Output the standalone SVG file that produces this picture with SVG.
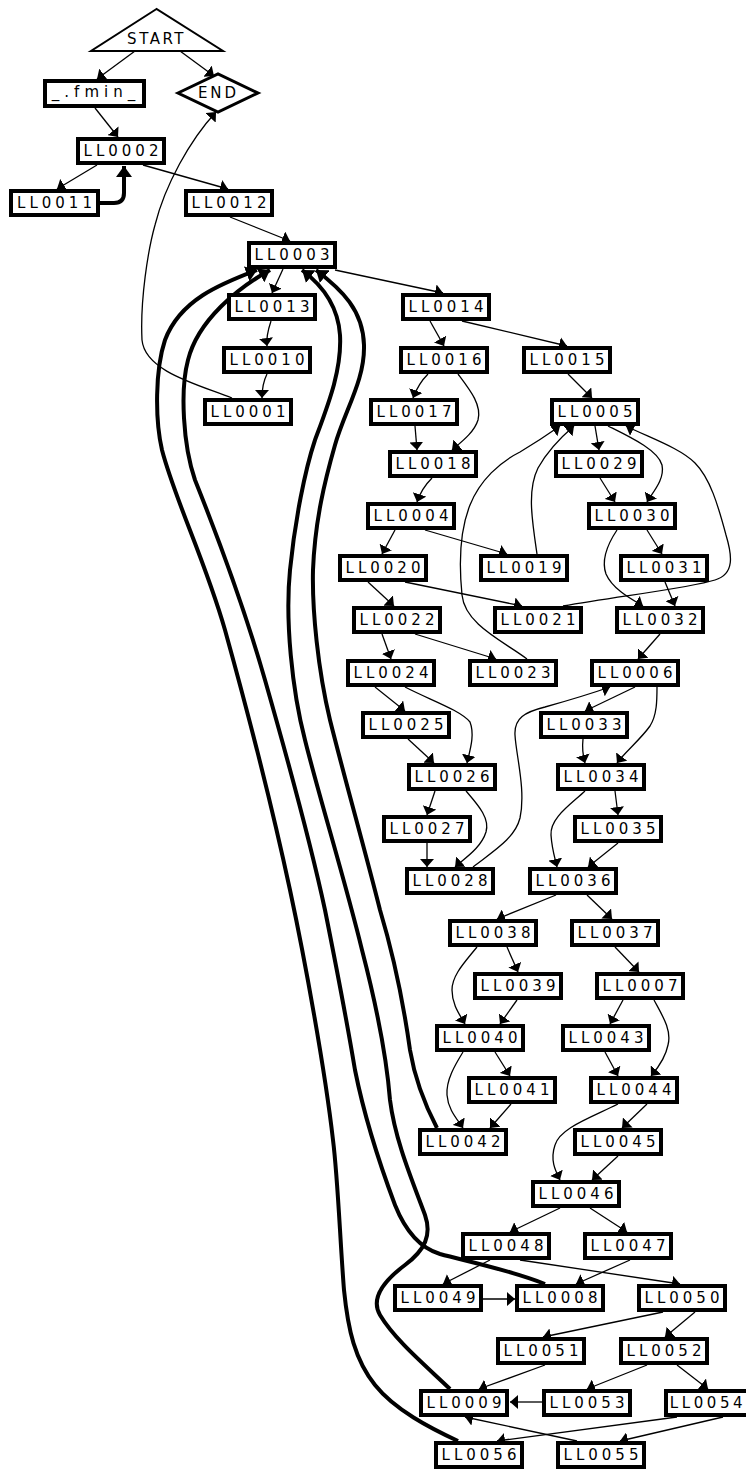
<svg xmlns="http://www.w3.org/2000/svg" width="746" height="1470" viewBox="0 0 746 1470">
<style>
.box{fill:#fff;stroke:#000;stroke-width:4}
.lbl{font-family:"DejaVu Sans","Liberation Sans",sans-serif;font-size:15px;letter-spacing:4px;text-anchor:middle;fill:#000}
.e{fill:none;stroke:#000;stroke-width:1.3;marker-end:url(#ah)}
.t{fill:none;stroke:#000;stroke-width:4;marker-end:url(#aht)}
</style>
<defs>
<marker id="ah" markerUnits="userSpaceOnUse" viewBox="0 0 8 14" refX="8" refY="7" markerWidth="8" markerHeight="14" orient="auto"><path d="M0,0 L8,7 L0,14 z" fill="#000"/></marker>
<marker id="aht" markerUnits="userSpaceOnUse" viewBox="0 0 11 16" refX="11" refY="8" markerWidth="11" markerHeight="16" orient="auto"><path d="M0,0 L11,8 L0,16 z" fill="#000"/></marker>
</defs>
<rect width="746" height="1470" fill="#fff"/>
<g id="connectors">
<path class="e" d="M135,51 L97,79"/>
<path class="e" d="M180,51 L214,76"/>
<path class="e" d="M95,108 L118,137"/>
<path class="e" d="M97,165 L57,189"/>
<path class="e" d="M143,165 L228,189"/>
<path class="e" d="M230,217 L290,241"/>
<path class="e" d="M232,398 C200,385 145,372 142,340 C140,300 148,250 155,225 C165,185 190,140 216,112"/>
<path class="e" d="M283,269 L272,293"/>
<path class="e" d="M335,270 L443,293"/>
<path class="e" d="M271,321 C268,330 266,338 267,346"/>
<path class="e" d="M267,374 C263,382 262,390 262,398"/>
<path class="e" d="M430,321 L444,346"/>
<path class="e" d="M462,321 L567,346"/>
<path class="e" d="M428,374 C420,382 416,390 413,398"/>
<path class="e" d="M458,374 C470,390 482,405 478,420 C474,433 460,443 452,450"/>
<path class="e" d="M568,374 L592,398"/>
<path class="e" d="M415,426 L417,450"/>
<path class="e" d="M432,478 C425,485 420,493 417,502"/>
<path class="e" d="M595,426 L599,450"/>
<path class="e" d="M608,426 C630,437 658,450 662,465 C665,480 652,493 647,502"/>
<path class="e" d="M600,478 L615,502"/>
<path class="e" d="M395,530 L382,554"/>
<path class="e" d="M425,530 L507,554"/>
<path class="e" d="M537,554 C532,520 527,490 538,468 C548,450 560,438 574,426"/>
<path class="e" d="M647,530 L662,554"/>
<path class="e" d="M617,530 C607,545 601,560 606,574 C613,590 633,600 643,606"/>
<path class="e" d="M368,582 L394,606"/>
<path class="e" d="M405,582 L522,606"/>
<path class="e" d="M665,582 L675,606"/>
<path class="e" d="M563,606 C620,596 690,588 715,580 C735,574 732,555 726,535 C718,505 710,478 695,463 C680,448 650,438 626,426"/>
<path class="e" d="M527,659 C505,642 465,625 462,595 C459,565 460,530 470,505 C480,480 500,462 520,452 C535,443 550,433 560,426"/>
<path class="e" d="M382,634 L391,659"/>
<path class="e" d="M415,634 L496,659"/>
<path class="e" d="M660,634 L638,659"/>
<path class="e" d="M375,687 L405,711"/>
<path class="e" d="M405,687 C430,700 460,710 470,722 C475,735 470,750 467,763"/>
<path class="e" d="M635,687 L585,711"/>
<path class="e" d="M657,687 C657,700 657,715 650,726 C640,740 625,752 617,763"/>
<path class="e" d="M473,867 C495,850 515,838 520,818 C526,790 516,755 515,735 C514,718 525,712 545,707 C570,700 590,694 610,687"/>
<path class="e" d="M408,739 L434,763"/>
<path class="e" d="M583,739 C582,748 583,756 585,763"/>
<path class="e" d="M435,791 L427,815"/>
<path class="e" d="M466,791 C478,805 490,818 486,832 C481,848 465,858 455,867"/>
<path class="e" d="M615,791 L618,815"/>
<path class="e" d="M585,791 C570,805 550,818 551,835 C552,850 555,858 557,867"/>
<path class="e" d="M427,843 L427,867"/>
<path class="e" d="M618,843 L588,867"/>
<path class="e" d="M556,895 L497,919"/>
<path class="e" d="M587,895 L612,919"/>
<path class="e" d="M507,947 L518,972"/>
<path class="e" d="M477,947 C465,962 452,975 452,990 C452,1005 460,1015 465,1024"/>
<path class="e" d="M615,947 L639,972"/>
<path class="e" d="M517,1000 L500,1024"/>
<path class="e" d="M623,1000 L610,1024"/>
<path class="e" d="M654,1000 C662,1015 672,1030 668,1045 C665,1060 656,1070 651,1076"/>
<path class="e" d="M495,1052 L510,1076"/>
<path class="e" d="M463,1052 C455,1065 446,1080 447,1095 C448,1110 458,1120 463,1128"/>
<path class="e" d="M605,1052 L618,1076"/>
<path class="e" d="M511,1104 L490,1128"/>
<path class="e" d="M647,1104 L622,1128"/>
<path class="e" d="M618,1104 C590,1118 560,1128 555,1145 C550,1160 555,1170 560,1180"/>
<path class="e" d="M618,1156 L592,1180"/>
<path class="e" d="M560,1208 L510,1232"/>
<path class="e" d="M590,1208 L627,1232"/>
<path class="e" d="M490,1260 L443,1284"/>
<path class="e" d="M520,1260 L680,1284"/>
<path class="e" d="M630,1260 L576,1284"/>
<path class="e" d="M482,1299 L515,1299"/>
<path class="e" d="M663,1312 L543,1337"/>
<path class="e" d="M695,1312 L665,1337"/>
<path class="e" d="M545,1365 L479,1389"/>
<path class="e" d="M647,1365 L587,1389"/>
<path class="e" d="M677,1365 L708,1389"/>
<path class="e" d="M542,1402 L510,1402"/>
<path class="e" d="M677,1417 L497,1441"/>
<path class="e" d="M723,1417 L620,1441"/>
<path class="e" d="M577,1441 L465,1417"/>
<path class="t" d="M100,203 L114,203 Q124,203 124,193 L124,166"/>
<path class="t" d="M458,1441 C430,1428 395,1410 375,1385 C355,1360 348,1330 344,1290 C340,1240 338,1180 333,1140 C325,1070 305,960 290,890 C275,820 250,720 225,630 C205,560 175,500 162,450 C155,420 155,370 165,340 C180,300 220,284 257,270"/>
<path class="t" d="M545,1284 C510,1270 470,1262 440,1254 C420,1248 405,1230 395,1205 C380,1165 365,1120 355,1070 C345,1010 335,960 325,910 C310,840 285,750 265,680 C245,610 215,530 195,480 C183,445 180,390 188,360 C198,320 238,288 270,270"/>
<path class="t" d="M450,1389 C425,1365 395,1340 380,1315 C370,1298 385,1280 405,1265 C425,1250 432,1235 425,1215 C412,1180 395,1140 390,1100 C386,1050 375,1000 362,950 C345,880 320,800 305,740 C292,690 285,620 290,570 C295,520 305,470 315,440 C328,405 342,370 340,335 C338,305 322,285 302,270"/>
<path class="t" d="M437,1128 C425,1105 415,1080 410,1050 C403,1000 392,950 380,910 C365,850 345,780 330,720 C318,670 312,610 313,570 C315,520 325,480 335,445 C345,410 365,380 364,345 C363,310 342,290 316,270"/>
</g>
<g id="START"><polygon points="156.5,9 91,51 223,51" fill="#fff" stroke="#000" stroke-width="2"/><text class="lbl" x="156.5" y="44" style="letter-spacing:2.5px">START</text></g>
<g id="END"><polygon points="178,93 218,74 258,93 218,112" fill="#fff" stroke="#000" stroke-width="3"/><text class="lbl" x="218.5" y="98" style="letter-spacing:3px">END</text></g>
<g id="fmin"><rect class="box" x="45" y="81" width="99" height="25"/><text class="lbl" x="96" y="97" style="letter-spacing:5px">_.fmin_</text></g>
<g id="LL0002"><rect class="box" x="78" y="139" width="86" height="24"/><text class="lbl" x="123" y="155.5">LL0002</text></g>
<g id="LL0011"><rect class="box" x="11" y="191" width="87" height="24"/><text class="lbl" x="56.5" y="207.5">LL0011</text></g>
<g id="LL0012"><rect class="box" x="186" y="191" width="86" height="24"/><text class="lbl" x="231" y="207.5">LL0012</text></g>
<g id="LL0003"><rect class="box" x="249" y="243" width="86" height="24"/><text class="lbl" x="294" y="259.5">LL0003</text></g>
<g id="LL0013"><rect class="box" x="229" y="295" width="86" height="24"/><text class="lbl" x="274" y="311.5">LL0013</text></g>
<g id="LL0014"><rect class="box" x="403" y="295" width="86" height="24"/><text class="lbl" x="448" y="311.5">LL0014</text></g>
<g id="LL0010"><rect class="box" x="224" y="348" width="86" height="24"/><text class="lbl" x="269" y="364.5">LL0010</text></g>
<g id="LL0016"><rect class="box" x="401" y="348" width="86" height="24"/><text class="lbl" x="446" y="364.5">LL0016</text></g>
<g id="LL0015"><rect class="box" x="524" y="348" width="86" height="24"/><text class="lbl" x="569" y="364.5">LL0015</text></g>
<g id="LL0001"><rect class="box" x="205" y="400" width="86" height="24"/><text class="lbl" x="250" y="416.5">LL0001</text></g>
<g id="LL0017"><rect class="box" x="371" y="400" width="86" height="24"/><text class="lbl" x="416" y="416.5">LL0017</text></g>
<g id="LL0005"><rect class="box" x="552" y="400" width="86" height="24"/><text class="lbl" x="597" y="416.5">LL0005</text></g>
<g id="LL0018"><rect class="box" x="390" y="452" width="86" height="24"/><text class="lbl" x="435" y="468.5">LL0018</text></g>
<g id="LL0029"><rect class="box" x="556" y="452" width="86" height="24"/><text class="lbl" x="601" y="468.5">LL0029</text></g>
<g id="LL0004"><rect class="box" x="368" y="504" width="86" height="24"/><text class="lbl" x="413" y="520.5">LL0004</text></g>
<g id="LL0030"><rect class="box" x="589" y="504" width="86" height="24"/><text class="lbl" x="634" y="520.5">LL0030</text></g>
<g id="LL0020"><rect class="box" x="340" y="556" width="86" height="24"/><text class="lbl" x="385" y="572.5">LL0020</text></g>
<g id="LL0019"><rect class="box" x="481" y="556" width="86" height="24"/><text class="lbl" x="526" y="572.5">LL0019</text></g>
<g id="LL0031"><rect class="box" x="621" y="556" width="86" height="24"/><text class="lbl" x="666" y="572.5">LL0031</text></g>
<g id="LL0022"><rect class="box" x="354" y="608" width="86" height="24"/><text class="lbl" x="399" y="624.5">LL0022</text></g>
<g id="LL0021"><rect class="box" x="495" y="608" width="86" height="24"/><text class="lbl" x="540" y="624.5">LL0021</text></g>
<g id="LL0032"><rect class="box" x="617" y="608" width="86" height="24"/><text class="lbl" x="662" y="624.5">LL0032</text></g>
<g id="LL0024"><rect class="box" x="348" y="661" width="86" height="24"/><text class="lbl" x="393" y="677.5">LL0024</text></g>
<g id="LL0023"><rect class="box" x="470" y="661" width="86" height="24"/><text class="lbl" x="515" y="677.5">LL0023</text></g>
<g id="LL0006"><rect class="box" x="592" y="661" width="86" height="24"/><text class="lbl" x="637" y="677.5">LL0006</text></g>
<g id="LL0025"><rect class="box" x="363" y="713" width="86" height="24"/><text class="lbl" x="408" y="729.5">LL0025</text></g>
<g id="LL0033"><rect class="box" x="541" y="713" width="86" height="24"/><text class="lbl" x="586" y="729.5">LL0033</text></g>
<g id="LL0026"><rect class="box" x="409" y="765" width="86" height="24"/><text class="lbl" x="454" y="781.5">LL0026</text></g>
<g id="LL0034"><rect class="box" x="558" y="765" width="86" height="24"/><text class="lbl" x="603" y="781.5">LL0034</text></g>
<g id="LL0027"><rect class="box" x="384" y="817" width="86" height="24"/><text class="lbl" x="429" y="833.5">LL0027</text></g>
<g id="LL0035"><rect class="box" x="575" y="817" width="86" height="24"/><text class="lbl" x="620" y="833.5">LL0035</text></g>
<g id="LL0028"><rect class="box" x="407" y="869" width="86" height="24"/><text class="lbl" x="452" y="885.5">LL0028</text></g>
<g id="LL0036"><rect class="box" x="530" y="869" width="86" height="24"/><text class="lbl" x="575" y="885.5">LL0036</text></g>
<g id="LL0038"><rect class="box" x="450" y="921" width="86" height="24"/><text class="lbl" x="495" y="937.5">LL0038</text></g>
<g id="LL0037"><rect class="box" x="572" y="921" width="86" height="24"/><text class="lbl" x="617" y="937.5">LL0037</text></g>
<g id="LL0039"><rect class="box" x="475" y="974" width="86" height="24"/><text class="lbl" x="520" y="990.5">LL0039</text></g>
<g id="LL0007"><rect class="box" x="597" y="974" width="86" height="24"/><text class="lbl" x="642" y="990.5">LL0007</text></g>
<g id="LL0040"><rect class="box" x="437" y="1026" width="86" height="24"/><text class="lbl" x="482" y="1042.5">LL0040</text></g>
<g id="LL0043"><rect class="box" x="563" y="1026" width="86" height="24"/><text class="lbl" x="608" y="1042.5">LL0043</text></g>
<g id="LL0041"><rect class="box" x="469" y="1078" width="86" height="24"/><text class="lbl" x="514" y="1094.5">LL0041</text></g>
<g id="LL0044"><rect class="box" x="591" y="1078" width="86" height="24"/><text class="lbl" x="636" y="1094.5">LL0044</text></g>
<g id="LL0042"><rect class="box" x="420" y="1130" width="86" height="24"/><text class="lbl" x="465" y="1146.5">LL0042</text></g>
<g id="LL0045"><rect class="box" x="575" y="1130" width="86" height="24"/><text class="lbl" x="620" y="1146.5">LL0045</text></g>
<g id="LL0046"><rect class="box" x="533" y="1182" width="86" height="24"/><text class="lbl" x="578" y="1198.5">LL0046</text></g>
<g id="LL0048"><rect class="box" x="463" y="1234" width="86" height="24"/><text class="lbl" x="508" y="1250.5">LL0048</text></g>
<g id="LL0047"><rect class="box" x="585" y="1234" width="86" height="24"/><text class="lbl" x="630" y="1250.5">LL0047</text></g>
<g id="LL0049"><rect class="box" x="395" y="1286" width="86" height="24"/><text class="lbl" x="440" y="1302.5">LL0049</text></g>
<g id="LL0008"><rect class="box" x="517" y="1286" width="86" height="24"/><text class="lbl" x="562" y="1302.5">LL0008</text></g>
<g id="LL0050"><rect class="box" x="639" y="1286" width="86" height="24"/><text class="lbl" x="684" y="1302.5">LL0050</text></g>
<g id="LL0051"><rect class="box" x="498" y="1339" width="86" height="24"/><text class="lbl" x="543" y="1355.5">LL0051</text></g>
<g id="LL0052"><rect class="box" x="621" y="1339" width="86" height="24"/><text class="lbl" x="666" y="1355.5">LL0052</text></g>
<g id="LL0009"><rect class="box" x="421" y="1391" width="86" height="24"/><text class="lbl" x="466" y="1407.5">LL0009</text></g>
<g id="LL0053"><rect class="box" x="544" y="1391" width="86" height="24"/><text class="lbl" x="589" y="1407.5">LL0053</text></g>
<g id="LL0054"><rect class="box" x="666" y="1391" width="86" height="24"/><text class="lbl" x="708" y="1407.5" style="letter-spacing:3.6px">LL0054</text></g>
<g id="LL0056"><rect class="box" x="436" y="1443" width="86" height="24"/><text class="lbl" x="481" y="1459.5">LL0056</text></g>
<g id="LL0055"><rect class="box" x="558" y="1443" width="86" height="24"/><text class="lbl" x="603" y="1459.5">LL0055</text></g>
</svg>
